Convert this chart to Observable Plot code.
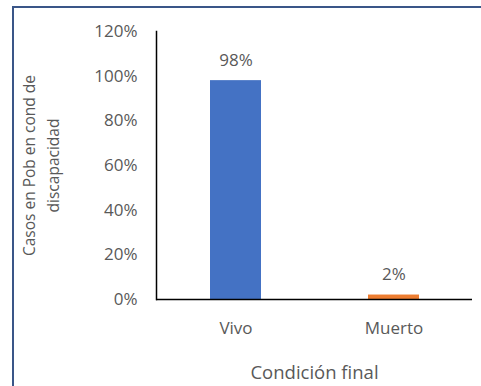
<!DOCTYPE html>
<html>
<head>
<meta charset="utf-8">
<script src="https://cdn.jsdelivr.net/npm/d3@7"></script>
<script src="https://cdn.jsdelivr.net/npm/@observablehq/plot@0.6"></script>
<style>
  html, body { margin: 0; padding: 0; background: #fff; overflow: hidden; width: 481px; height: 386px; }
  #wrap { position: relative; width: 481px; height: 386px; }
  #border { position: absolute; left: 12px; top: 6px; width: 520px; height: 420px;
            border-top: 2px solid #3A5688; border-left: 2px solid #3A5688; box-sizing: border-box; }
  #chart { position: absolute; left: 0; top: 0; }
</style>
</head>
<body>
<div id="wrap"><div id="border"></div><div id="chart"></div></div>
<script>
const categories = ["Vivo", "Muerto"];
const values = [0.98, 0.02];
const colors = ["#4472C4", "#ED7D31"];
const yTicks = [0, 0.2, 0.4, 0.6, 0.8, 1.0, 1.2];
const yTitle = "Casos en Pob en cond de\ndiscapacidad";
const xTitle = "Condición final";

const data = categories.map((c, i) => ({cat: c, value: values[i], color: colors[i]}));
const pct = d => `${Math.round(d * 100)}%`;
const FONT = "'Open Sans', sans-serif";
const GRAY = "#595959";

const marks = [
  Plot.barY(data, {x: "cat", y: "value", fill: "color"}),
  Plot.ruleY([0], {stroke: "#000", strokeWidth: 1.5}),
  Plot.axisY({ticks: yTicks, tickFormat: pct, tickSize: 0, tickPadding: 19, label: null, fill: GRAY, fontSize: 17}),
  Plot.axisX({tickSize: 0, tickPadding: 22, label: null, fill: GRAY, fontSize: 17}),
  Plot.text(data, {x: "cat", y: "value", text: d => pct(d.value), dy: -20, lineAnchor: "middle", fill: GRAY, fontSize: 17}),
  Plot.text([yTitle], {frameAnchor: "left", dx: -117, rotate: -90, lineAnchor: "middle", textAnchor: "middle", lineHeight: 1.55, fill: GRAY, fontSize: 15.5}),
  Plot.text([xTitle], {frameAnchor: "bottom", dy: 74, lineAnchor: "middle", fill: GRAY, fontSize: 18.5})
];
try { marks.push(Plot.frame({anchor: "left", stroke: "#000", strokeWidth: 1.5})); } catch (e) {}

const chart = Plot.plot({
  width: 481,
  height: 386,
  marginLeft: 156,
  marginRight: 9,
  marginTop: 31,
  marginBottom: 87,
  style: {fontFamily: FONT, fontSize: "17px", background: "transparent", color: GRAY, overflow: "visible"},
  x: {domain: categories, paddingInner: 0.68, paddingOuter: 0.34},
  y: {domain: [0, 1.2]},
  color: {type: "identity"},
  marks
});
document.getElementById("chart").appendChild(chart);
</script>
</body>
</html>
